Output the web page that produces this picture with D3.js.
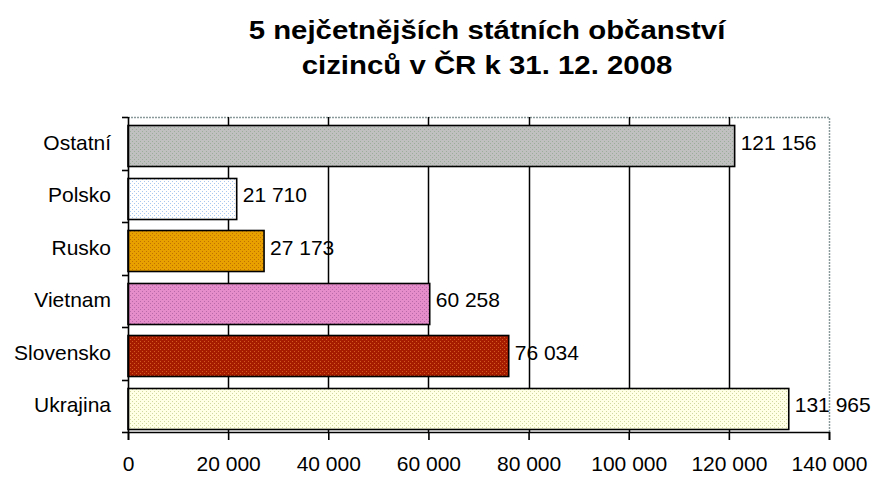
<!DOCTYPE html>
<html>
<head>
<meta charset="utf-8">
<script src="https://cdn.jsdelivr.net/npm/d3@7"></script>
<style>
  body { margin: 0; background: #fff; }
  svg text { font-family: "Liberation Sans", Arial, sans-serif; fill: #000; }
</style>
</head>
<body>
<div id="chart"></div>
<script>
(function() {
  // data, top to bottom as drawn
  const categories = ["Ostatní", "Polsko", "Rusko", "Vietnam", "Slovensko", "Ukrajina"];
  const values = [121156, 21710, 27173, 60258, 76034, 131965];
  const barColors = ["#c0c0c0", "#ffffff", "#e8a000", "#e58ccb", "#a51c00", "#ffffe6"];
  const dotColors = ["#9aae9a", "#a8c8f0", "#c07000", "#b86aa8", "#d05a20", "#d0d8a0"];
  const xTicks = [0, 20000, 40000, 60000, 80000, 100000, 120000, 140000];
  const titleLines = ["5 nejčetnějších státních občanství", "cizinců v ČR k 31. 12. 2008"];

  const W = 877, H = 477;
  const margin = { top: 117, right: 48, bottom: 45, left: 128 };
  const width = W - margin.left - margin.right;
  const height = H - margin.top - margin.bottom;

  const fmt = v => d3.format(",")(v).replace(/,/g, " ");

  const svg = d3.select("#chart")
    .append("svg")
      .attr("width", W)
      .attr("height", H);

  // speckled fills
  const defs = svg.append("defs");
  categories.forEach((c, i) => {
    const p = defs.append("pattern")
      .attr("id", "pat" + i)
      .attr("width", 4)
      .attr("height", 4)
      .attr("patternUnits", "userSpaceOnUse");
    p.append("rect").attr("width", 4).attr("height", 4).attr("fill", barColors[i]);
    p.append("rect").attr("x", 0).attr("y", 0).attr("width", 1).attr("height", 1).attr("fill", dotColors[i]);
    p.append("rect").attr("x", 2).attr("y", 2).attr("width", 1).attr("height", 1).attr("fill", dotColors[i]);
  });

  // title (glyphs in the original are a bit wide, hence the x-stretch)
  svg.selectAll(".title")
    .data(titleLines)
    .enter().append("text")
      .attr("class", "title")
      .attr("transform", (d, i) => `translate(487, ${39 + i * 35}) scale(1.13, 1)`)
      .attr("text-anchor", "middle")
      .style("font-weight", "bold")
      .style("font-size", "26px")
      .text(d => d);

  const g = svg.append("g")
    .attr("transform", `translate(${margin.left}, ${margin.top})`);

  const x = d3.scaleLinear()
    .domain([0, 140000])
    .range([0, width]);

  const y = d3.scaleBand()
    .domain(categories)
    .range([0, height])
    .paddingInner(0.22)
    .paddingOuter(0.11)
    .align(0.7);

  // plot border (top, right)
  g.append("path")
    .attr("d", `M0,0.5H${width + 0.5}V${height}`)
    .attr("fill", "none")
    .attr("stroke", "#8a9a9a")
    .attr("stroke-width", 1.5)
    .attr("stroke-dasharray", "2,1");

  // gridlines
  g.selectAll(".grid")
    .data(xTicks.filter(d => d > 0 && d < 140000))
    .enter().append("line")
      .attr("class", "grid")
      .attr("x1", d => Math.round(x(d)) + 0.5)
      .attr("x2", d => Math.round(x(d)) + 0.5)
      .attr("y1", 0)
      .attr("y2", height)
      .attr("stroke", "#000")
      .attr("stroke-width", 1.5);

  // bars
  g.selectAll(".bar")
    .data(values)
    .enter().append("rect")
      .attr("class", "bar")
      .attr("x", x(0))
      .attr("y", (d, i) => Math.round(y(categories[i])) + 0.5)
      .attr("width", d => x(d) - x(0))
      .attr("height", Math.round(y.bandwidth()))
      .attr("fill", (d, i) => `url(#pat${i})`)
      .attr("stroke", "#000")
      .attr("stroke-width", 1.6);

  // value labels
  g.selectAll(".val")
    .data(values)
    .enter().append("text")
      .attr("class", "val")
      .attr("x", d => x(d) + 6)
      .attr("y", (d, i) => y(categories[i]) + y.bandwidth() / 2)
      .attr("dy", "0.2em")
      .style("font-size", "21px")
      .text(d => fmt(d));

  // left axis with ticks at band boundaries
  const bounds = d3.range(categories.length + 1).map(i => i * height / categories.length);
  g.append("line")
    .attr("x1", 0.5).attr("x2", 0.5)
    .attr("y1", 0).attr("y2", height)
    .attr("stroke", "#000").attr("stroke-width", 1.6);
  g.selectAll(".ytick")
    .data(bounds)
    .enter().append("line")
      .attr("class", "ytick")
      .attr("x1", -6).attr("x2", 0)
      .attr("y1", d => Math.round(d) + 0.5)
      .attr("y2", d => Math.round(d) + 0.5)
      .attr("stroke", "#000").attr("stroke-width", 1.6);

  g.selectAll(".ylab")
    .data(categories)
    .enter().append("text")
      .attr("class", "ylab")
      .attr("x", -17)
      .attr("y", d => y(d) + y.bandwidth() / 2)
      .attr("dy", "0.2em")
      .attr("text-anchor", "end")
      .style("font-size", "21px")
      .text(d => d);

  // bottom axis
  const xAxis = g.append("g")
    .attr("transform", `translate(0, ${height})`)
    .call(d3.axisBottom(x)
      .tickValues(xTicks)
      .tickSize(8)
      .tickPadding(16)
      .tickFormat(fmt));

  xAxis.select(".domain").attr("stroke-width", 1.6);
  xAxis.selectAll(".tick line").attr("stroke-width", 1.6);
  xAxis.selectAll("text")
    .style("font-size", "21px")
    .style("font-family", "'Liberation Sans', Arial, sans-serif");
})();
</script>
</body>
</html>
